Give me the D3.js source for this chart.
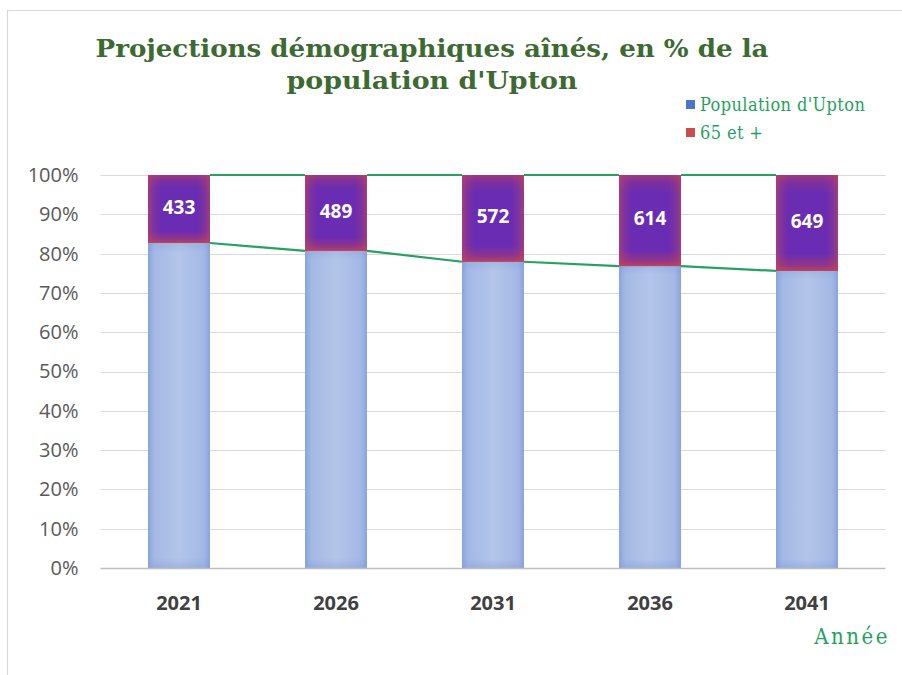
<!DOCTYPE html>
<html><head><meta charset="utf-8">
<script src="https://cdn.jsdelivr.net/npm/d3@7"></script>
<style>
html,body{margin:0;padding:0;background:#fff;}
svg{display:block;}
</style></head>
<body>
<svg id="chart" width="902" height="675"></svg>
<script>
// ---- data ----
const years = ["2021", "2026", "2031", "2036", "2041"];
const populationUpton = [2070, 2045, 2020, 2035, 2010];
const seniors65 = [433, 489, 572, 614, 649];
const seriesNames = ["Population d'Upton", "65 et +"];
const yTicks = [0, 0.1, 0.2, 0.3, 0.4, 0.5, 0.6, 0.7, 0.8, 0.9, 1];
const titleLines = ["Projections démographiques aînés, en % de la", "population d'Upton"];
const xAxisTitle = "Année";

const svg = d3.select("#chart");
const W = 902, H = 675;
const plot = {left: 100.5, right: 885.5, top: 175, bottom: 568};

// frame
svg.append("path").attr("d", `M7.5,${H} L7.5,10.5 L${W},10.5`)
  .attr("fill", "none").attr("stroke", "#d9d9d9").attr("stroke-width", 1.2);

// defs gradients
const defs = svg.append("defs");
const gBlue = defs.append("linearGradient").attr("id", "gBlue").attr("x1", 0).attr("x2", 1).attr("y1", 0).attr("y2", 0);
[[0, "#8aa3dd"], [0.1, "#a3b8e5"], [0.5, "#b3c5e9"], [0.9, "#a3b8e5"], [1, "#8aa3dd"]]
  .forEach(([o, c]) => gBlue.append("stop").attr("offset", o).attr("stop-color", c));
const gBlueV = defs.append("linearGradient").attr("id", "gBlueV").attr("x1", 0).attr("x2", 0).attr("y1", 0).attr("y2", 1);
[[0, "#7f9bd8", 0.3], [0.03, "#7f9bd8", 0], [0.97, "#7f9bd8", 0], [1, "#7f9bd8", 0.4]]
  .forEach(([o, c, a]) => gBlueV.append("stop").attr("offset", o).attr("stop-color", c).attr("stop-opacity", a));
const gRedH = defs.append("linearGradient").attr("id", "gRedH").attr("x1", 0).attr("x2", 1).attr("y1", 0).attr("y2", 0);
[[0, 0.6], [0.08, 0.25], [0.2, 0], [0.8, 0], [0.92, 0.25], [1, 0.6]]
  .forEach(([o, a]) => gRedH.append("stop").attr("offset", o).attr("stop-color", "#c24a5c").attr("stop-opacity", a));
const gRedV = defs.append("linearGradient").attr("id", "gRedV").attr("x1", 0).attr("x2", 0).attr("y1", 0).attr("y2", 1);
[[0, 0.55], [0.08, 0.2], [0.2, 0], [0.82, 0], [0.94, 0.4], [1, 0.9]]
  .forEach(([o, a]) => gRedV.append("stop").attr("offset", o).attr("stop-color", "#c84450").attr("stop-opacity", a));

// data prep
const rows = years.map((y, i) => ({year: y, pop: populationUpton[i], s65: seniors65[i]}));
const stack = d3.stack().keys(["pop", "s65"]).offset(d3.stackOffsetExpand);
const layers = stack(rows);

const x = d3.scaleBand().domain(years).range([plot.left, plot.right]).paddingInner(0.605).paddingOuter(0.3025);
const y = d3.scaleLinear().domain([0, 1]).range([plot.bottom, plot.top]);

// gridlines
svg.append("g").selectAll("line").data(yTicks.slice(1)).join("line")
  .attr("x1", plot.left).attr("x2", plot.right)
  .attr("y1", d => Math.round(y(d)) + 0.5).attr("y2", d => Math.round(y(d)) + 0.5)
  .attr("stroke", "#d9d9d9").attr("stroke-width", 1);

// y axis
const yAxis = svg.append("g").attr("transform", `translate(${plot.left},0)`)
  .call(d3.axisLeft(y).tickValues(yTicks).tickFormat(d3.format(".0%")).tickSize(0).tickPadding(22));
yAxis.select(".domain").remove();
yAxis.selectAll("text").attr("font-family", "'Open Sans', sans-serif").attr("font-size", 20)
  .attr("fill", "#595959");

// series lines (between bars)
const lineColor = "#27a160";
layers.forEach(layer => {
  const segs = d3.range(layer.length - 1).map(i => ({
    x1: x(years[i]) + x.bandwidth(), y1: y(layer[i][1]),
    x2: x(years[i + 1]), y2: y(layer[i + 1][1])
  }));
  svg.append("g").selectAll("line").data(segs).join("line")
    .attr("x1", d => d.x1).attr("y1", d => d.y1).attr("x2", d => d.x2).attr("y2", d => d.y2)
    .attr("stroke", lineColor).attr("stroke-width", 2.2);
});

// bars
const bw = x.bandwidth();
const popL = layers[0];
const gPop = svg.append("g");
gPop.selectAll("rect.b").data(popL).join("rect").attr("class", "b")
  .attr("x", d => x(d.data.year)).attr("width", bw)
  .attr("y", d => y(d[1])).attr("height", d => y(d[0]) - y(d[1]))
  .attr("fill", "url(#gBlue)");
gPop.selectAll("rect.v").data(popL).join("rect").attr("class", "v")
  .attr("x", d => x(d.data.year)).attr("width", bw)
  .attr("y", d => y(d[1])).attr("height", d => y(d[0]) - y(d[1]))
  .attr("fill", "url(#gBlueV)");
const sL = layers[1];
const gS = svg.append("g");
gS.selectAll("rect.b").data(sL).join("rect").attr("class", "b")
  .attr("x", d => x(d.data.year)).attr("width", bw)
  .attr("y", d => y(d[1])).attr("height", d => y(d[0]) - y(d[1]))
  .attr("fill", "#6a2cb2");
gS.selectAll("rect.h").data(sL).join("rect").attr("class", "h")
  .attr("x", d => x(d.data.year)).attr("width", bw)
  .attr("y", d => y(d[1])).attr("height", d => y(d[0]) - y(d[1]))
  .attr("fill", "url(#gRedH)");
gS.selectAll("rect.v").data(sL).join("rect").attr("class", "v")
  .attr("x", d => x(d.data.year)).attr("width", bw)
  .attr("y", d => y(d[1])).attr("height", d => y(d[0]) - y(d[1]))
  .attr("fill", "url(#gRedV)");
gS.selectAll("text").data(sL).join("text")
  .attr("x", d => x(d.data.year) + bw / 2)
  .attr("y", d => (y(d[0]) + y(d[1])) / 2 - 2)
  .attr("dy", "0.36em").attr("text-anchor", "middle")
  .attr("font-family", "'Open Sans', sans-serif").attr("font-weight", 700).attr("font-size", 19)
  .attr("fill", "#ffffff").text(d => d.data.s65);

// x axis
const xAxis = svg.append("g").attr("transform", `translate(0,${plot.bottom})`)
  .call(d3.axisBottom(x).tickSize(0).tickPadding(28));
xAxis.select(".domain").attr("d", `M${plot.left},0.5H${plot.right}`).attr("stroke", "#bfbfbf").attr("stroke-width", 1.5);
xAxis.selectAll("text").attr("font-family", "'Open Sans', sans-serif").attr("font-weight", 700)
  .attr("font-size", 20).attr("fill", "#404040");

// x axis title
svg.append("text").attr("x", 890).attr("y", 644).attr("text-anchor", "end")
  .attr("font-family", "'DejaVu Serif Condensed', 'DejaVu Serif', serif").attr("font-size", 22)
  .attr("letter-spacing", 2.5).attr("fill", "#1fa35c").text(xAxisTitle);

// title
const tWidths = [673, 291];
const tY = [57, 89];
titleLines.forEach((t, i) => {
  svg.append("text").attr("x", 432 - tWidths[i] / 2).attr("y", tY[i])
    .attr("font-family", "'DejaVu Serif Condensed', 'DejaVu Serif', serif").attr("font-weight", 700).attr("font-size", 25)
    .attr("textLength", tWidths[i]).attr("lengthAdjust", "spacingAndGlyphs")
    .attr("fill", "#3c6a32").text(t);
});

// legend
const legColors = ["#4a78c8", "#c8504a"];
const leg = svg.append("g");
seriesNames.forEach((n, i) => {
  const ly = 111 + i * 28;
  leg.append("rect").attr("x", 686).attr("y", ly - 11).attr("width", 9).attr("height", 9).attr("fill", legColors[i]);
  leg.append("text").attr("x", 700).attr("y", ly).attr("font-family", "'DejaVu Serif Condensed', 'DejaVu Serif', serif")
    .attr("font-size", 18).attr("letter-spacing", 0.4).attr("fill", "#1fa35c").text(n);
});
</script>
</body></html>
